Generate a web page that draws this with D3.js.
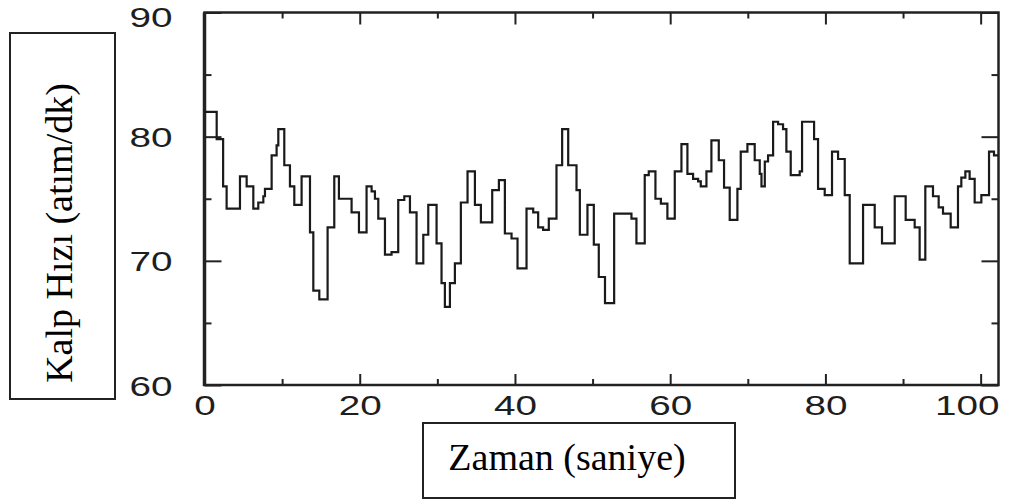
<!DOCTYPE html>
<head>
  <meta charset="utf-8">
  <script src="https://cdn.jsdelivr.net/npm/d3@7"></script>
  <style>
    body { margin: 0; background: #fff; }
    .tick text { font-family: "Liberation Sans", Arial, sans-serif; font-size: 28px; fill: #1e1e1e; }
    .title { font-family: "Liberation Serif", "Times New Roman", serif; font-size: 38px; fill: #000; }
  </style>
</head>
<body>
  <svg width="1009" height="504"></svg>
  <script>

  // time (s) where each step starts, and heart rate (beats/min) for that step
  var times = [0, 1.57, 2.4, 2.85, 4.57, 5.43, 6.29, 6.93, 7.58, 7.79, 8.65, 9.29, 9.51, 10.28, 11.01,
    11.57, 12.51, 13.59, 14.02, 14.79, 15.86, 16.72, 17.32, 18.95, 19.9, 20.88, 21.53, 21.96, 22.39,
    23.25, 24.1, 24.96, 25.74, 26.47, 27.32, 28.19, 28.83, 29.9, 30.54, 30.97, 31.62, 32.26, 33.03,
    33.89, 34.84, 35.61, 37.07, 37.93, 38.7, 39.56, 40.33, 41.49, 42.35, 42.99, 43.63, 44.36, 45.35,
    46.08, 46.86, 47.93, 48.36, 49.34, 50.16, 50.8, 51.6, 52.78, 55.01, 55.65, 56.72, 57.24, 58.1,
    58.8, 59.64, 60.59, 61.45, 62.22, 62.95, 63.6, 63.94, 64.67, 65.31, 66.26, 66.94, 67.67, 68.66,
    69.09, 69.95, 70.89, 71.54, 71.76, 72.19, 72.61, 73.26, 73.9, 74.54, 74.97, 75.53, 76.69, 76.99,
    78.54, 79.05, 79.91, 80.85, 81.63, 82.49, 83.13, 84.85, 86.35, 87.29, 88.93, 90.34, 91.5, 92.14,
    92.87, 93.86, 94.59, 95.15, 96.14, 97.08, 97.51, 98.03, 98.58, 99.23, 100.09, 101.08, 101.72];

  var rates = [82.0, 79.8, 76.0, 74.2, 76.8, 76.0, 74.2, 74.7, 75.2, 75.8, 78.5, 79.3, 80.6, 77.7, 76.0,
    74.5, 76.8, 72.3, 67.6, 66.9, 72.7, 76.8, 75.0, 73.9, 72.3, 76.0, 75.6, 75.0, 73.4,
    70.5, 70.7, 74.9, 75.2, 73.9, 69.8, 72.1, 74.5, 71.4, 68.2, 66.3, 68.2, 69.8, 74.7,
    77.2, 74.5, 73.1, 75.7, 76.5, 72.2, 71.8, 69.4, 74.2, 73.9, 72.7, 72.5, 73.4, 77.7,
    80.6, 77.7, 75.7, 72.1, 74.5, 71.3, 68.7, 66.6, 73.8, 73.4, 71.4, 76.9, 77.2, 75.0,
    74.6, 73.4, 77.2, 79.4, 77.0, 76.6, 76.4, 76.0, 77.2, 79.7, 78.1, 75.9, 73.3, 75.8,
    78.8, 79.4, 78.1, 77.0, 76.0, 78.0, 78.5, 81.2, 81.0, 80.6, 78.8, 76.9, 77.2, 81.2,
    79.8, 75.8, 75.3, 78.8, 78.2, 75.3, 69.8, 74.5, 72.7, 71.4, 75.2, 73.3, 72.7, 70.1,
    76.0, 75.2, 74.3, 73.8, 72.7, 76.0, 76.7, 77.2, 76.6, 74.7, 75.3, 78.8, 78.5];

  var xTicks = [0, 20, 40, 60, 80, 100];
  var xMinor = [10, 30, 50, 70, 90];
  var yTicks = [60, 70, 80, 90];
  var yMinor = [65, 75, 85];

  var svg = d3.select("svg");

  var x = d3.scaleLinear()
      .domain([0, 102.3])
      .range([204.5, 998.5]);

  var y = d3.scaleLinear()
      .domain([60, 90])
      .range([385, 12.5]);

  var data = times.map(function(t, i) { return [t, rates[i]]; });
  data.push([x.domain()[1], rates[rates.length - 1]]);

  function plain(sel) {
    sel.selectAll(".domain").remove();
    sel.selectAll("line").attr("stroke", "#222").attr("stroke-width", 2);
  }

  // minor ticks first
  svg.append("g")
      .attr("transform", "translate(0," + y.range()[0] + ")")
      .call(d3.axisBottom(x).tickValues(xMinor).tickSize(-6).tickFormat(""))
      .call(plain);
  svg.append("g")
      .attr("transform", "translate(0," + y.range()[1] + ")")
      .call(d3.axisTop(x).tickValues(xMinor).tickSize(-6).tickFormat(""))
      .call(plain);
  svg.append("g")
      .attr("transform", "translate(" + x.range()[0] + ",0)")
      .call(d3.axisLeft(y).tickValues(yMinor).tickSize(-7).tickFormat(""))
      .call(plain);
  svg.append("g")
      .attr("transform", "translate(" + x.range()[1] + ",0)")
      .call(d3.axisRight(y).tickValues(yMinor).tickSize(-7).tickFormat(""))
      .call(plain);

  // major ticks with labels
  var gx = svg.append("g")
      .attr("transform", "translate(0," + y.range()[0] + ")")
      .call(d3.axisBottom(x).tickValues(xTicks).tickSize(-11))
      .call(plain);
  gx.selectAll("text")
      .attr("y", 30)
      .attr("dy", null)
      .attr("transform", function(d) {
        // the last label is pulled in so it stays inside the page
        return (d === 100 ? "translate(-14,0) " : "") + "scale(1.38,1)";
      });

  svg.append("g")
      .attr("transform", "translate(0," + y.range()[1] + ")")
      .call(d3.axisTop(x).tickValues(xTicks).tickSize(-12).tickFormat(""))
      .call(plain);

  var gy = svg.append("g")
      .attr("transform", "translate(" + x.range()[0] + ",0)")
      .call(d3.axisLeft(y).tickValues(yTicks).tickSize(-17))
      .call(plain);
  gy.selectAll("text")
      .attr("x", 0)
      .attr("dy", "0.36em")
      .attr("transform", function(d) {
        return "translate(-32," + (d === 90 ? 4 : 0) + ") scale(1.38,1)";
      });

  svg.append("g")
      .attr("transform", "translate(" + x.range()[1] + ",0)")
      .call(d3.axisRight(y).tickValues(yTicks).tickSize(-17).tickFormat(""))
      .call(plain);

  // frame
  svg.append("rect")
      .attr("x", x.range()[0])
      .attr("y", y.range()[1])
      .attr("width", x.range()[1] - x.range()[0])
      .attr("height", y.range()[0] - y.range()[1])
      .attr("fill", "none")
      .attr("stroke", "#222")
      .attr("stroke-width", 2.5);

  svg.append("line")
      .attr("x1", x.range()[0]).attr("x2", x.range()[0])
      .attr("y1", y.range()[1]).attr("y2", y.range()[0] + 1)
      .attr("stroke", "#222")
      .attr("stroke-width", 3.5);

  // heart rate trace
  var line = d3.line()
      .x(function(d) { return x(d[0]); })
      .y(function(d) { return y(d[1]); })
      .curve(d3.curveStepAfter);

  svg.append("path")
      .datum(data)
      .attr("d", line)
      .attr("fill", "none")
      .attr("stroke", "#1a1a1a")
      .attr("stroke-width", 2.2);

  // boxed axis titles
  svg.append("rect")
      .attr("x", 10).attr("y", 33)
      .attr("width", 105).attr("height", 366)
      .attr("fill", "none").attr("stroke", "#222").attr("stroke-width", 2);

  svg.append("text")
      .attr("class", "title")
      .attr("transform", "translate(72,233) rotate(-90)")
      .attr("text-anchor", "middle")
      .text("Kalp Hızı (atım/dk)");

  svg.append("rect")
      .attr("x", 423).attr("y", 423)
      .attr("width", 312).attr("height", 75)
      .attr("fill", "none").attr("stroke", "#222").attr("stroke-width", 2);

  svg.append("text")
      .attr("class", "title")
      .attr("x", 567)
      .attr("y", 470)
      .attr("text-anchor", "middle")
      .text("Zaman (saniye)");

  </script>
</body>
